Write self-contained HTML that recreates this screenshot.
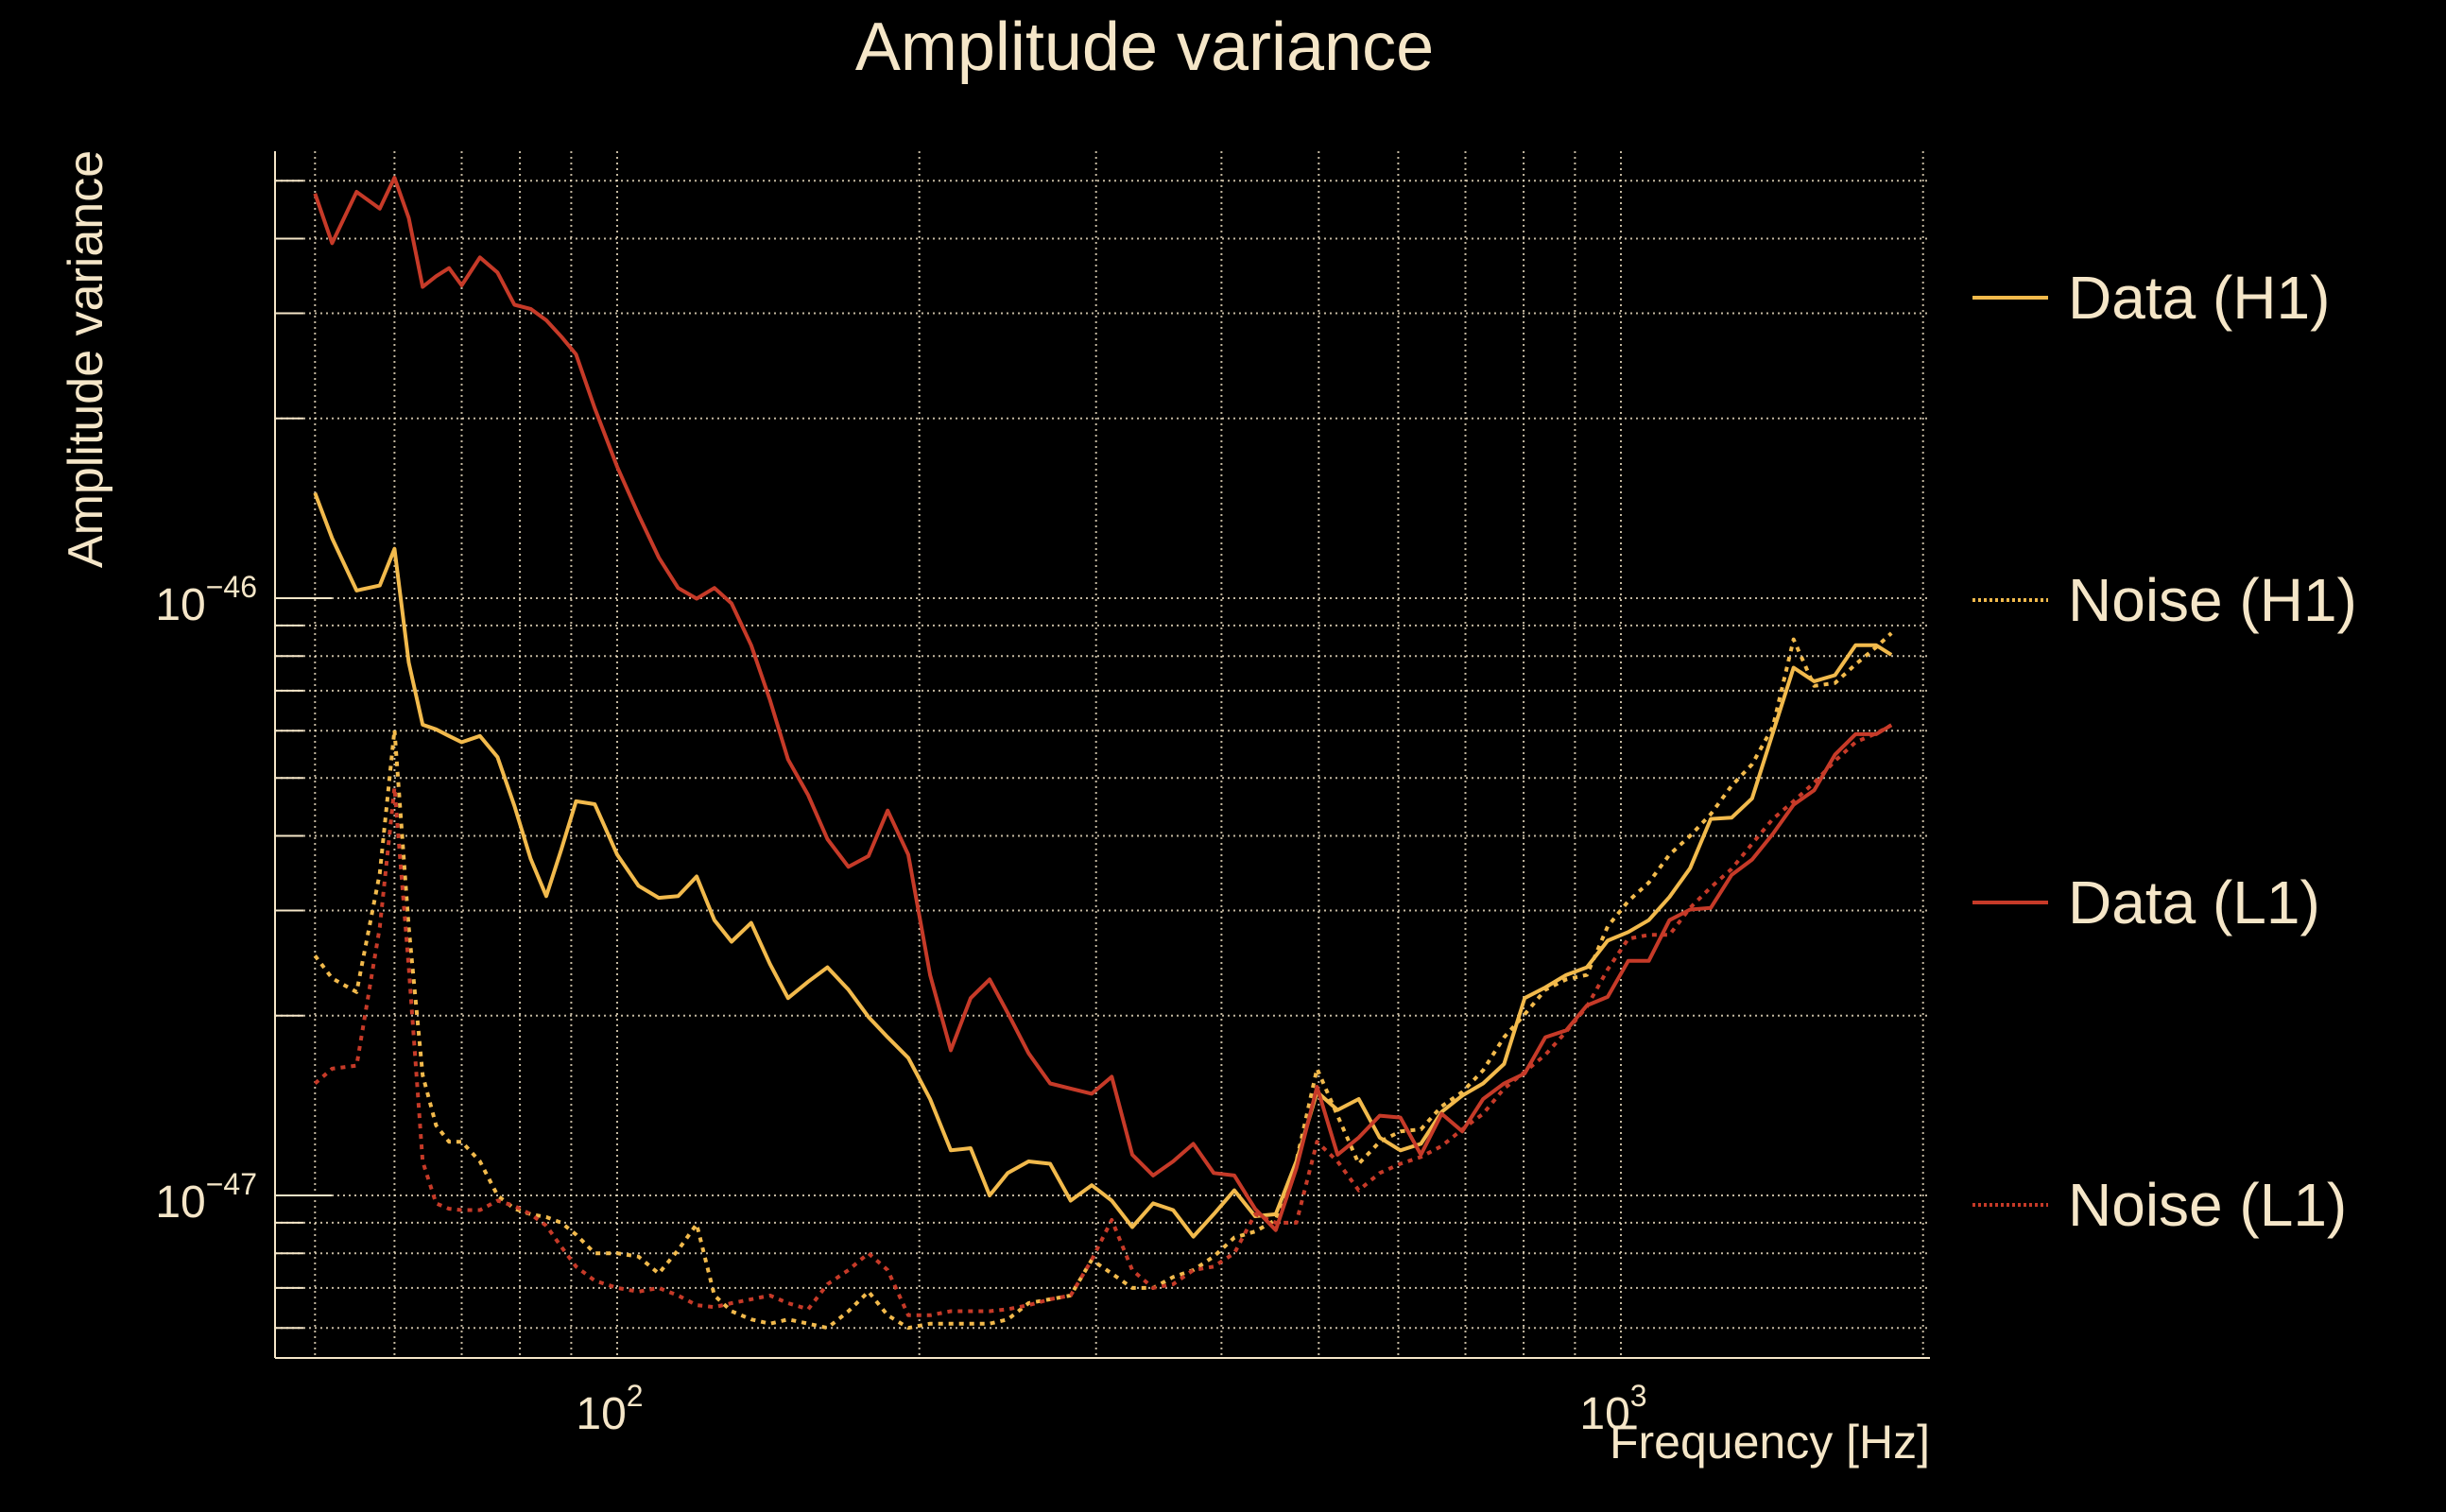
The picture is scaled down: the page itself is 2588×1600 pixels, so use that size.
<!DOCTYPE html>
<html><head><meta charset="utf-8">
<style>
html,body{margin:0;padding:0;background:#000;}
svg{display:block;}
text{font-family:"Liberation Sans",sans-serif;fill:#f5e6c8;}
</style></head>
<body>
<svg id="chart" width="2588" height="1600" viewBox="0 0 2588 1600" xmlns="http://www.w3.org/2000/svg">
<rect width="2588" height="1600" fill="#000"/>
<text x="1211" y="74" font-size="72" text-anchor="middle">Amplitude variance</text>
<text transform="translate(108,380) rotate(-90)" font-size="52" text-anchor="middle">Amplitude variance</text>
<text x="2042" y="1543" font-size="50" text-anchor="end">Frequency [Hz]</text>
<g id="grid"></g>
<g id="axes"></g>
<g id="series"></g>
<g id="legend"></g>
</svg>
<script>
// frequency grid (Hz)
const freqs = [50,52,55,58,60,62,64,66,68,70,73,76,79,82,85,88,91,95,100,105,110,115,120,125,130,136,142,148,155,162,170,178,186,195,205,215,225,235,245,257,270,283,297,311,326,342,358,375,393,412,432,453,475,498,522,548,575,603,632,663,695,729,765,802,841,882,925,970,1017,1066,1118,1172,1229,1289,1351,1417,1486,1558,1634,1713,1796,1860];
// values in units of 1e-47
const dataH1 = [15.0,12.6,10.3,10.5,12.1,7.80,6.14,6.03,5.88,5.74,5.88,5.42,4.49,3.66,3.17,3.80,4.57,4.52,3.72,3.30,3.15,3.17,3.42,2.89,2.66,2.86,2.44,2.14,2.28,2.41,2.21,1.99,1.84,1.70,1.45,1.19,1.20,1.00,1.09,1.14,1.13,0.98,1.04,0.98,0.885,0.97,0.945,0.853,0.93,1.02,0.923,0.93,1.14,1.49,1.39,1.45,1.25,1.19,1.22,1.38,1.47,1.54,1.66,2.14,2.23,2.34,2.41,2.67,2.76,2.89,3.16,3.53,4.27,4.29,4.62,5.95,7.65,7.26,7.43,8.34,8.34,8.04];
const noiseH1 = [2.52,2.31,2.19,3.46,6.02,2.81,1.59,1.31,1.23,1.23,1.14,1.00,0.95,0.93,0.92,0.90,0.86,0.80,0.80,0.79,0.74,0.81,0.895,0.68,0.64,0.62,0.61,0.62,0.61,0.60,0.64,0.69,0.63,0.60,0.61,0.61,0.61,0.61,0.62,0.66,0.67,0.68,0.78,0.74,0.70,0.70,0.73,0.75,0.79,0.85,0.87,0.91,1.14,1.63,1.36,1.13,1.23,1.28,1.29,1.41,1.49,1.62,1.84,2.01,2.21,2.30,2.34,2.82,3.11,3.34,3.72,4.00,4.35,4.85,5.27,6.09,8.53,7.13,7.21,7.75,8.28,8.74];
const dataL1 = [47.6,39.3,47.9,44.9,50.6,43.3,33.2,34.6,35.7,33.4,37.2,35.1,31.0,30.5,29.2,27.4,25.6,20.8,16.6,13.8,11.7,10.4,9.98,10.4,9.8,8.34,6.75,5.37,4.68,3.95,3.55,3.70,4.41,3.72,2.34,1.75,2.14,2.30,2.02,1.73,1.54,1.51,1.48,1.58,1.17,1.08,1.14,1.22,1.09,1.08,0.95,0.875,1.11,1.52,1.17,1.25,1.36,1.35,1.17,1.37,1.28,1.45,1.54,1.60,1.84,1.89,2.08,2.15,2.47,2.47,2.89,3.01,3.03,3.44,3.65,4.03,4.51,4.77,5.47,5.92,5.92,6.13];
const noiseL1 = [1.54,1.63,1.65,2.81,4.82,2.41,1.14,0.97,0.95,0.945,0.945,0.98,0.96,0.93,0.89,0.82,0.76,0.72,0.70,0.69,0.70,0.68,0.655,0.65,0.66,0.67,0.68,0.66,0.645,0.71,0.75,0.80,0.75,0.63,0.63,0.64,0.64,0.64,0.645,0.655,0.67,0.68,0.78,0.91,0.75,0.70,0.71,0.75,0.76,0.80,0.93,0.90,0.90,1.23,1.14,1.02,1.09,1.13,1.16,1.21,1.29,1.37,1.51,1.61,1.72,1.88,2.07,2.39,2.69,2.73,2.73,3.03,3.28,3.52,3.88,4.27,4.57,4.91,5.34,5.74,5.94,6.13];
const seriesNames = ["Data (H1)","Noise (H1)","Data (L1)","Noise (L1)"];
const xTickLabels = ["2","3"];
const yTickLabels = ["−46","−47"];

const NS="http://www.w3.org/2000/svg";
const X0=291, X1=2042, Y0=160, Y1=1437;
function xs(f){return 653+1062*Math.log10(f/100);}
function ys(v){return 1265-632*Math.log10(v);} // v in 1e-47 units
const CREAM="#f5e6c8";
function mk(tag,attrs,parent){const e=document.createElementNS(NS,tag);for(const k in attrs)e.setAttribute(k,attrs[k]);parent.appendChild(e);return e;}

const grid=document.getElementById('grid');
const vf=[50,60,70,80,90,100,200,300,400,500,600,700,800,900,1000,2000];
vf.forEach(f=>{
  const l=mk('line',{x1:xs(f),x2:xs(f),y1:Y0,y2:Y1,stroke:CREAM,'stroke-width':2,'stroke-dasharray':'2 4','stroke-opacity':0.8},grid);
  
  
});
const hv=[0.6,0.7,0.8,0.9,1,2,3,4,5,6,7,8,9,10,20,30,40,50];
hv.forEach(v=>{
  const y=ys(v);
  const l=mk('line',{x1:X0,x2:X1,y1:y,y2:y,stroke:CREAM,'stroke-width':2,'stroke-dasharray':'2 4','stroke-opacity':0.8},grid);
  
  
  const major=(v===1||v===10);
  const t=mk('line',{x1:X0,x2:X0+(major?60:30),y1:y,y2:y,stroke:CREAM,'stroke-width':2},grid);
  
  
});

const axes=document.getElementById('axes');
const ya=mk('line',{x1:X0,x2:X0,y1:Y0,y2:Y1,stroke:CREAM,'stroke-width':2},axes);


const xa=mk('line',{x1:X0,x2:X1,y1:Y1,y2:Y1,stroke:CREAM,'stroke-width':2},axes);


[100,1000].forEach((f,i)=>{
  const t=mk('text',{x:xs(f)-8,y:1512,'font-size':48,'text-anchor':'middle'},axes);
  
  
  t.appendChild(document.createTextNode('10'));
  const s=mk('tspan',{dy:-24,'font-size':32},t);s.textContent=xTickLabels[i];
});
[10,1].forEach((v,i)=>{
  const t=mk('text',{x:272,y:ys(v)+23,'font-size':48,'text-anchor':'end'},axes);
  
  
  t.appendChild(document.createTextNode('10'));
  const s=mk('tspan',{dy:-24,'font-size':32},t);s.textContent=yTickLabels[i];
});

const styles=[
 {c:"#f2ba4c",d:null},
 {c:"#f2ba4c",d:"5 6"},
 {c:"#c63a28",d:null},
 {c:"#c63a28",d:"5 6"}
];
const allSeries=[dataH1,noiseH1,dataL1,noiseL1];
const sg=document.getElementById('series');
const seriesIds=['data-h1-line','noise-h1-line','data-l1-line','noise-l1-line'];
allSeries.forEach((vals,si)=>{
  const pts=freqs.map((f,i)=>xs(f).toFixed(1)+','+ys(vals[i]).toFixed(1)).join(' ');
  const a={points:pts,fill:'none',stroke:styles[si].c,'stroke-width':4,'stroke-linejoin':'round'};
  if(styles[si].d)a['stroke-dasharray']=styles[si].d;
  const p=mk('polyline',a,sg);
  
  
});

const lg=document.getElementById('legend');
const legY=[315,635,955,1275];
seriesNames.forEach((n,i)=>{
  const g=mk('g',{},lg);
  
  
  const a={x1:2087,x2:2167,y1:legY[i],y2:legY[i],stroke:styles[i].c,'stroke-width':4};
  if(styles[i].d)a['stroke-dasharray']='3 3';
  mk('line',a,g);
  const t=mk('text',{x:2188,y:legY[i]+22,'font-size':64},g);
  t.textContent=n;
});
</script>
</body></html>
